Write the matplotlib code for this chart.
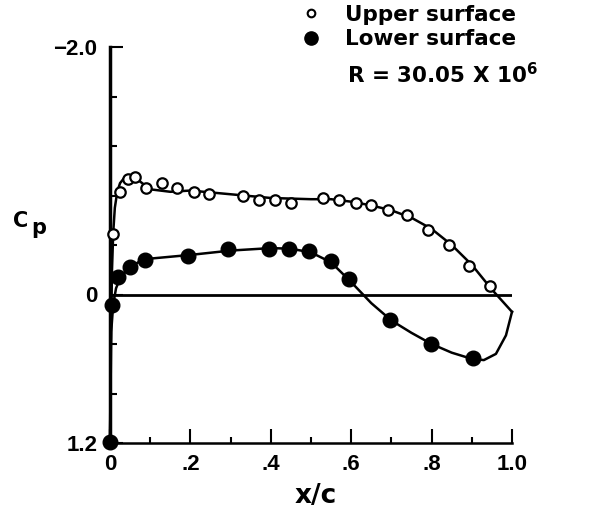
import matplotlib.pyplot as plt
from matplotlib.lines import Line2D

plt.rcParams['font.family'] = ['Liberation Sans', 'DejaVu Sans']
plt.rcParams['font.weight'] = 'bold'
plt.rcParams['mathtext.fontset'] = 'custom'
plt.rcParams['mathtext.rm'] = 'DejaVu Sans:bold'
plt.rcParams['mathtext.bf'] = 'DejaVu Sans:bold'

# Pontos medidos - superficie superior (circulos abertos)
upper_x = [0.008, 0.025, 0.044, 0.062, 0.089, 0.129, 0.167, 0.209, 0.247, 0.330,
           0.371, 0.410, 0.450, 0.529, 0.570, 0.611, 0.649, 0.691, 0.740, 0.792,
           0.844, 0.894, 0.945]
upper_cp = [-0.49, -0.83, -0.93, -0.95, -0.86, -0.90, -0.86, -0.83, -0.81, -0.80,
            -0.76, -0.76, -0.74, -0.78, -0.76, -0.74, -0.72, -0.68, -0.64, -0.52,
            -0.40, -0.23, -0.07]

# Pontos medidos - superficie inferior (circulos cheios)
lower_x = [0.0, 0.004, 0.021, 0.050, 0.087, 0.193, 0.294, 0.396, 0.445, 0.496,
           0.549, 0.595, 0.697, 0.798, 0.902]
lower_cp = [1.19, 0.085, -0.14, -0.225, -0.28, -0.31, -0.365, -0.37, -0.37, -0.35,
            -0.27, -0.125, 0.21, 0.40, 0.51]

# Curvas de ajuste
upper_line_x = [0.0, 0.002, 0.005, 0.008, 0.012, 0.018, 0.025, 0.035, 0.045, 0.06,
                0.08, 0.1, 0.15, 0.2, 0.3, 0.4, 0.5, 0.55, 0.6, 0.65, 0.7, 0.75,
                0.8, 0.85, 0.9, 0.95, 1.0]
upper_line_cp = [1.2, 0.4, -0.2, -0.5, -0.7, -0.83, -0.9, -0.94, -0.96, -0.95,
                 -0.9, -0.85, -0.83, -0.84, -0.81, -0.78, -0.77, -0.77, -0.75,
                 -0.72, -0.68, -0.62, -0.53, -0.40, -0.24, -0.04, 0.14]
lower_line_x = [0.0, 0.003, 0.008, 0.015, 0.025, 0.045, 0.07, 0.1, 0.2, 0.3, 0.4,
                0.45, 0.5, 0.55, 0.6, 0.65, 0.7, 0.75, 0.8, 0.85, 0.9, 0.93, 0.96,
                0.985, 1.0]
lower_line_cp = [1.2, 0.3, 0.08, -0.05, -0.13, -0.21, -0.26, -0.29, -0.32, -0.355,
                 -0.375, -0.37, -0.34, -0.26, -0.10, 0.07, 0.21, 0.31, 0.40, 0.47,
                 0.52, 0.53, 0.48, 0.33, 0.14]

x_ticks = [0, 0.2, 0.4, 0.6, 0.8, 1.0]
x_labels = ['0', '.2', '.4', '.6', '.8', '1.0']
x_minor = [0.1, 0.3, 0.5, 0.7, 0.9]
y_ticks = [-2.0, 0, 1.2]
y_labels = ['\u22122.0', '0', '1.2']
y_minor = [-1.6, -1.2, -0.8, -0.4, 0.4, 0.8]

W, H = 590, 508
fig = plt.figure(figsize=(W / 100, H / 100), dpi=100)
ax = fig.add_axes([110 / W, 65 / H, 402 / W, 396 / H])

ax.axhline(0, xmin=0, xmax=1, color='black', lw=2.0)
ax.plot(upper_line_x, upper_line_cp, 'k-', lw=1.8, clip_on=False)
ax.plot(lower_line_x, lower_line_cp, 'k-', lw=1.8, clip_on=False)
ax.plot(upper_x, upper_cp, 'o', ms=7.5, mfc='white', mec='black', mew=1.6,
        clip_on=False, zorder=5)
ax.plot(lower_x, lower_cp, 'o', ms=10.5, mfc='black', mec='black',
        clip_on=False, zorder=5)

ax.set_xlim(0, 1.0)
ax.set_ylim(1.2, -2.0)
for s in ['top', 'right']:
    ax.spines[s].set_visible(False)
ax.spines['left'].set_linewidth(2.5)
ax.spines['bottom'].set_linewidth(1.8)

ax.set_xticks(x_ticks)
ax.set_xticklabels(x_labels)
ax.set_xticks(x_minor, minor=True)
ax.set_yticks(y_ticks)
ax.set_yticklabels(y_labels)
ax.set_yticks(y_minor, minor=True)
ax.tick_params(which='major', direction='in', length=10, width=1.5,
               labelsize=16, pad=8)
ax.tick_params(which='minor', direction='in', length=4, width=1.5)
ax.tick_params(axis='y', which='major', length=9, pad=9)
ax.tick_params(axis='y', which='minor', length=5)

# rotulos dos eixos
fig.text(316 / W, 1 - 503 / H, 'x/c', fontsize=19, family='DejaVu Sans',
         fontweight='bold', ha='center', va='baseline')
fig.text(13 / W, 1 - 227 / H, 'C', fontsize=15, family='DejaVu Sans',
         fontweight='bold', ha='left', va='baseline')
fig.text(31 / W, 1 - 233.5 / H, 'p', fontsize=15, family='DejaVu Sans',
         fontweight='bold', ha='left', va='baseline')

handles = [Line2D([], [], ls='none', marker='o', ms=5.5, mfc='white', mec='black', mew=1.5),
           Line2D([], [], ls='none', marker='o', ms=9.5, mfc='black', mec='black')]
leg = fig.legend(handles, ['Upper surface', 'Lower surface'], loc='upper left',
                 bbox_to_anchor=(300 / W, 1 - 5 / H), frameon=False,
                 prop={'family': 'DejaVu Sans', 'weight': 'bold', 'size': 15.5},
                 handlelength=1.0, handletextpad=1.1, labelspacing=0.2,
                 borderpad=0, borderaxespad=0)
fig.text(347 / W, 1 - 83 / H, r'R = 30.05 X 10$^{6}$', fontsize=15.5,
         family='DejaVu Sans', fontweight='bold', ha='left', va='baseline')

fig.savefig('out.png', dpi=100)
